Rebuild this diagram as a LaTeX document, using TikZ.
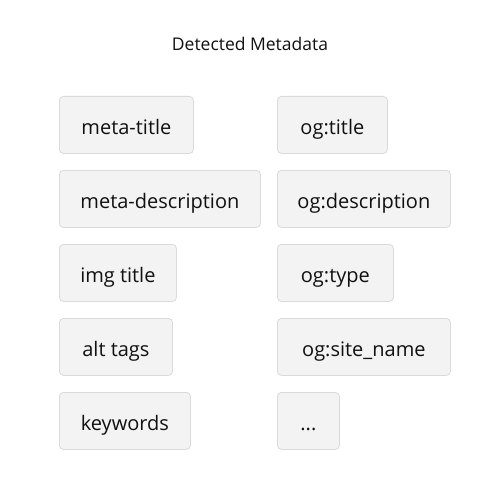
\documentclass[tikz,border=0pt]{standalone}
\usepackage{fontspec}
\setmainfont{Open Sans}
\definecolor{boxfill}{HTML}{F3F3F3}
\definecolor{boxline}{HTML}{DADADA}
\definecolor{ink}{HTML}{111111}
\begin{document}
\begin{tikzpicture}[x=1pt,y=-1pt,
  tag/.style={draw=boxline, fill=boxfill, rounded corners=4pt, line width=0.8pt,
    minimum height=57pt, anchor=north west, inner sep=0pt, text=ink,
    text height=21pt, text depth=2pt,
    font=\fontsize{20}{24}\selectfont},
  heading/.style={text=ink, anchor=base, inner sep=0pt, font=\fontsize{17.5}{21}\selectfont}]
\useasboundingbox[fill=white] (0,0) rectangle (500,500);
\node[heading] (title) at (250,50.5) {Detected Metadata};
\node[tag, minimum width=134pt] (mt) at (59,96) {meta-title};
\node[tag, minimum width=201pt] (md) at (59,170) {meta-description};
\node[tag, minimum width=117pt] (it) at (59,244) {img title};
\node[tag, minimum width=113pt] (at) at (59,318) {alt tags};
\node[tag, minimum width=131pt] (kw) at (59,392) {keywords};
\node[tag, minimum width=110pt] (ot) at (277,96) {og:title};
\node[tag, minimum width=173pt] (od) at (277,170) {og:description};
\node[tag, minimum width=116pt] (oy) at (277,244) {og:type};
\node[tag, minimum width=173pt] (os) at (277,318) {og:site\_name};
\node[tag, minimum width=62pt] (more) at (277,392) {...};
\end{tikzpicture}
\end{document}
